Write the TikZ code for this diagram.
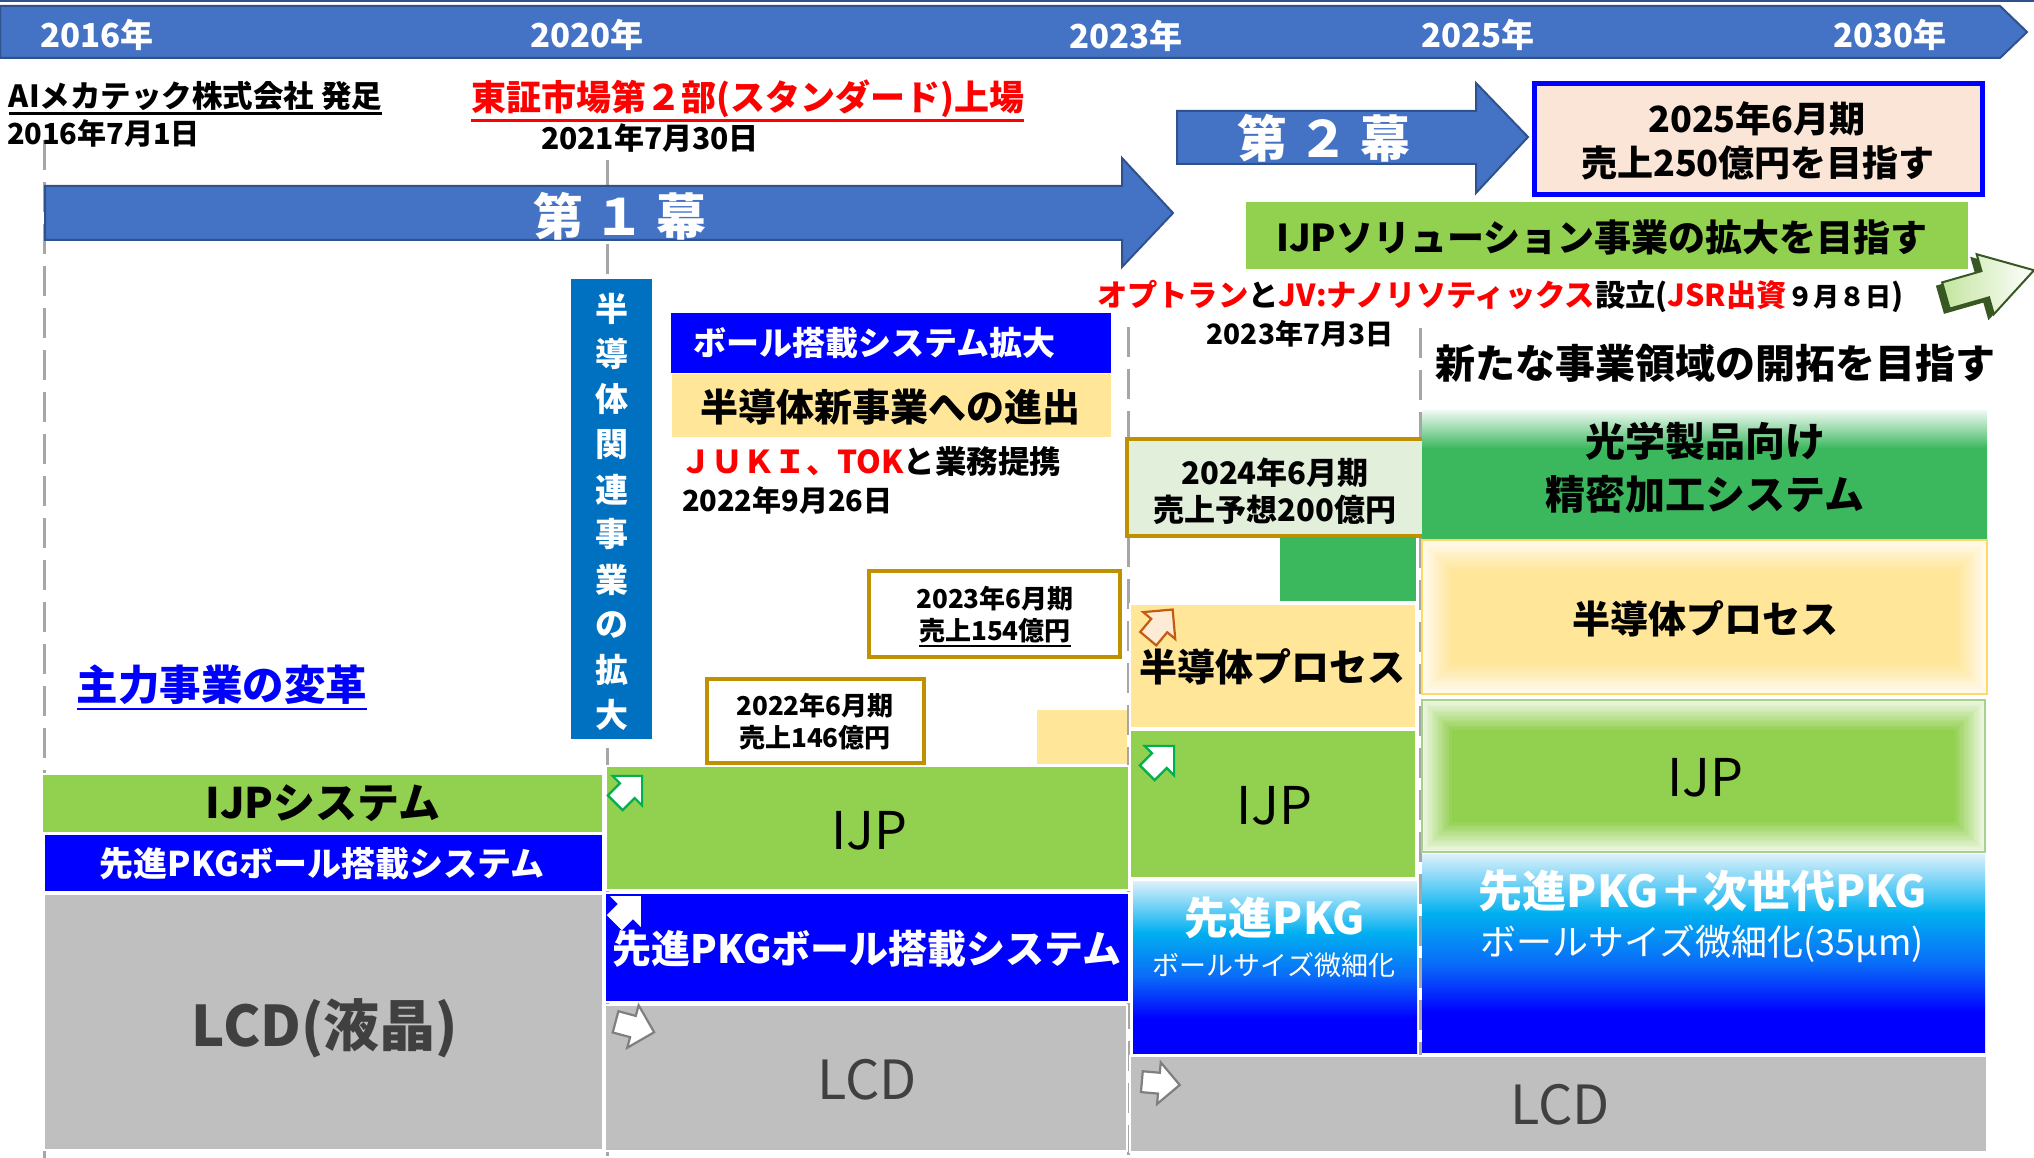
\documentclass[tikz,border=0pt]{standalone}
\usepackage{fontspec}
\setmainfont{Noto Sans CJK JP}
\usetikzlibrary{calc}
\definecolor{tlblue}{HTML}{4472C4}
\definecolor{tledge}{HTML}{2F528F}
\definecolor{ijpgreen}{HTML}{92D050}
\definecolor{pkgblue}{HTML}{0000FF}
\definecolor{lcdgray}{HTML}{BFBFBF}
\definecolor{lcdtext}{HTML}{404040}
\definecolor{semiyellow}{HTML}{FFE699}
\definecolor{vblue}{HTML}{0070C0}
\definecolor{dgreen}{RGB}{59,184,94}
\definecolor{peach}{HTML}{FBE5D6}
\definecolor{palegreen}{HTML}{E2EFDA}
\definecolor{gold}{HTML}{BF9000}
\definecolor{dashgray}{HTML}{A6A6A6}
\definecolor{pkgcyan}{HTML}{00B0F0}
\definecolor{pkgmid}{HTML}{0A6AF8}
\definecolor{pkglight}{HTML}{DDF1FB}
\definecolor{iconorange}{HTML}{C55A11}
\definecolor{iconpeach}{HTML}{FDEBD5}
\definecolor{icongreen}{HTML}{00B050}
\definecolor{icongray}{HTML}{7F7F7F}
\definecolor{arrdark}{RGB}{56,87,35}
\definecolor{semiedge}{HTML}{FFD966}
\definecolor{ijpedge}{HTML}{A9D18E}
\pgfdeclareverticalshading{pkgshade}{100bp}{color(0bp)=(pkgblue); color(35bp)=(pkgblue); color(47bp)=(pkgmid); color(60bp)=(pkgcyan); color(75bp)=(pkglight); color(100bp)=(pkglight)}
\pgfdeclareverticalshading{optshade}{100bp}{color(0bp)=(dgreen); color(60bp)=(dgreen); color(68bp)=(dgreen!50!white); color(75bp)=(dgreen!8!white); color(100bp)=(dgreen!8!white)}
\newcommand\rbox[6]{\node[rbx,minimum width={#4-#2},minimum height={#5-#3},#6] (#1) at ({(#2+#4)/2},{(#3+#5)/2}) {};}
\newcommand\blkarrow[5]{\draw[icon,#5,shift={(#1,#2)},rotate=#3,scale=#4] (-8,-5.5) -- (1,-5.5) -- (1,-11) -- (12,0) -- (1,11) -- (1,5.5) -- (-8,5.5) -- cycle;}
\newcommand\glowbox[1]{\foreach \i in {0,...,11}{\pgfmathsetmacro\op{0.85*(1-\i/12)}\draw[white, opacity=\op, line width=2.5pt] ([shift={(\i*2.5+1.2,\i*2.5+1.2)}]#1.north west) rectangle ([shift={(-\i*2.5-1.2,-\i*2.5-1.2)}]#1.south east);}}
\begin{document}
\begin{tikzpicture}[x=1pt,y=-1pt,
 rbx/.style={rectangle, inner sep=0pt, outer sep=0pt, draw=white, line width=2pt},
 txt/.style={inner sep=0pt, outer sep=0pt, font=\fontsize{#1}{#1}\selectfont},
 btxt/.style={inner sep=0pt, outer sep=0pt, font=\fontsize{#1}{#1}\selectfont\bfseries},
 yrline/.style={draw=dashgray, line width=3pt, dash pattern=on 30pt off 12pt},
 bigarrow/.style={fill=tlblue, draw=tledge, line width=2pt},
 goldbox/.style={rbx, draw=gold, line width=4pt},
 icon/.style={line width=2.2pt, line join=miter}]
\clip (0,0) rectangle (2034,1158);
\fill[white] (0,0) rectangle (2034,1158);
\draw[tledge, line width=1.5pt] (0,1) -- (2034,1);
% timeline band
\draw[bigarrow] (0,6) -- (2000,6) -- (2027,32) -- (2000,58) -- (0,58) -- cycle;
\node[btxt=33, white] (y2016) at (97,35) {2016年};
\node[btxt=33, white] (y2020) at (587,35) {2020年};
\node[btxt=33, white] (y2023) at (1126,36) {2023年};
\node[btxt=33, white] (y2025) at (1478,35) {2025年};
\node[btxt=33, white] (y2030) at (1890,35) {2030年};
% dashed year lines
\coordinate (l16t) at (44,140); \coordinate (l16b) at (44,1158);
\coordinate (l20t) at (607,160); \coordinate (l20b) at (607,1158);
\coordinate (l23t) at (1128,327); \coordinate (l23b) at (1128,1158);
\coordinate (l25t) at (1420,328); \coordinate (l25b) at (1420,1056);
\draw[yrline] (l16t) -- (l16b);
\draw[yrline] (l20t) -- (l20b);
\draw[yrline] (l23t) -- (l23b);
\draw[yrline] (l25t) -- (l25b);
% top texts
\node[btxt=30.5, anchor=west] (found) at (9,96) {AIメカテック株式会社 発足};
\draw[line width=2.5pt] ($(found.south west)+(0,3)$) -- ($(found.south east)+(0,3)$);
\node[btxt=29, anchor=west] (founddate) at (7,133) {2016年7月1日};
\node[btxt=35, anchor=west, red] (listing) at (471,99) {東証市場第２部(スタンダード)上場};
\draw[red, line width=3pt] ($(listing.south west)+(0,3)$) -- ($(listing.south east)+(0,3)$);
\node[btxt=30] (listdate) at (650,138) {2021年7月30日};
% act arrows
\draw[bigarrow] (45,186) -- (1122,186) -- (1122,158) -- (1173,213) -- (1122,267) -- (1122,240) -- (45,240) -- cycle;
\node[btxt=50, white] (act1) at (620,216) {第 １ 幕};
\draw[bigarrow] (1177,111) -- (1476,111) -- (1476,83) -- (1528,137) -- (1476,193) -- (1476,164) -- (1177,164) -- cycle;
\node[btxt=50, white] (act2) at (1324,138) {第 ２ 幕};
% goals
\rbox{goal}{1534}{84}{1982}{195}{fill=peach, draw=pkgblue, line width=5pt}
\node[btxt=36] (goal1) at (1757,119) {2025年6月期};
\node[btxt=36] (goal2) at (1758,163) {売上250億円を目指す};
\rbox{ijpsol}{1246}{202}{1968}{269}{fill=ijpgreen, draw=none}
\node[btxt=37] (ijpsolt) at (1602,237) {IJPソリューション事業の拡大を目指す};
% big outline arrow at right
\draw[arrdark, fill=arrdark, line width=2pt, shift={(1976.5,289.3)}, rotate=16, scale=3.9] (-9.5,-3.5) -- (1,-3.5) -- (1,-8) -- (14,0) -- (1,8) -- (1,3.5) -- (-9.5,3.5) -- cycle;
\draw[arrdark, line width=2pt, left color=ijpgreen!55!white, right color=white, shift={(1981.5,285.3)}, rotate=16, scale=3.9] (-9.5,-3.5) -- (1,-3.5) -- (1,-8) -- (14,0) -- (1,8) -- (1,3.5) -- (-9.5,3.5) -- cycle;
\node[btxt=30.3, anchor=west] (jv) at (1097,296) {\color{red}オプトラン\color{black}と\color{red}JV:ナノリソティックス\color{black}設立(\color{red}JSR出資\color{black}{\fontsize{26}{26}\selectfont ９月８日})};
\node[btxt=28] (date703) at (1300,334) {2023年7月3日};
\node[btxt=40] (newbiz) at (1715,363) {新たな事業領域の開拓を目指す};
% vertical box
\rbox{vbox}{571}{279}{652}{739}{fill=vblue, draw=none}
\foreach \c [count=\k from 0] in {半,導,体,関,連,事,業,の,拡,大}
  \node[btxt=33, white] (v\k) at (612,{309+45.1*\k}) {\c};
% middle upper
\rbox{ballexp}{671}{313}{1111}{373}{fill=pkgblue, draw=none}
\node[btxt=33, white, anchor=west] (ballexpt) at (693,343) {ボール搭載システム拡大};
\rbox{semi1}{672}{374}{1111}{437}{fill=semiyellow, draw=none}
\node[btxt=38] (semi1t) at (890,407) {半導体新事業への進出};
\node[btxt=31.5, anchor=west] (juki) at (680,462) {\color{red}ＪＵＫＩ、TOK\color{black}と業務提携};
\node[btxt=29, anchor=west] (jukidate) at (682,500) {2022年9月26日};
\rbox{r22}{707}{679}{924}{763}{goldbox, fill=white}
\node[btxt=26] (r22a) at (815,706) {2022年6月期};
\node[btxt=26] (r22b) at (815,738) {売上146億円};
\rbox{r23}{869}{571}{1120}{657}{goldbox, fill=white}
\node[btxt=26] (r23a) at (995,599) {2023年6月期};
\node[btxt=26] (r23b) at (995,631) {売上154億円};
\draw[line width=2pt] ($(r23b.south west)+(0,3)$) -- ($(r23b.south east)+(0,3)$);
\rbox{ysmall}{1037}{710}{1127}{764}{fill=semiyellow, draw=none}
% left column
\node[btxt=41.5, blue] (mainbiz) at (222,685) {主力事業の変革};
\draw[blue, line width=2.5pt] ($(mainbiz.south west)+(0,4)$) -- ($(mainbiz.south east)+(0,4)$);
\rbox{ijp1}{42}{774}{603}{833}{fill=ijpgreen}
\node[btxt=42] (ijp1t) at (323,803) {IJPシステム};
\rbox{pkg1}{44}{834}{603}{892}{fill=pkgblue}
\node[btxt=34, white] (pkg1t) at (322,864) {先進PKGボール搭載システム};
\rbox{lcd1}{44}{894}{603}{1150}{fill=lcdgray}
\node[btxt=56, lcdtext] (lcd1t) at (325,1028) {LCD(液晶)};
% middle column
\rbox{ijp2}{606}{766}{1129}{890}{fill=ijpgreen}
\node[txt=52] (ijp2t) at (869,831) {IJP};
\rbox{pkg2}{605}{893}{1129}{1002}{fill=pkgblue}
\node[btxt=39, white] (pkg2t) at (867,949) {先進PKGボール搭載システム};
\rbox{lcd2}{605}{1005}{1127}{1151}{fill=lcdgray}
\node[txt=54, lcdtext] (lcd2t) at (867,1080) {LCD};
% 2023 column
\rbox{r24}{1127}{439}{1424}{536}{goldbox, fill=palegreen}
\node[btxt=31] (r24a) at (1275,473) {2024年6月期};
\node[btxt=31] (r24b) at (1275,510) {売上予想200億円};
\rbox{gsmall}{1280}{537}{1416}{601}{fill=dgreen, draw=none}
\rbox{semi3}{1130}{604}{1416}{728}{fill=semiyellow}
\node[btxt=38] (semi3t) at (1272,667) {半導体プロセス};
\rbox{ijp3}{1130}{730}{1416}{878}{fill=ijpgreen}
\node[txt=52] (ijp3t) at (1274,806) {IJP};
\rbox{pkg3}{1133}{881}{1417}{1053}{shading=pkgshade, draw=none}
\node[btxt=44, white] (pkg3t) at (1275,918) {先進PKG};
\node[txt=27, white] (pkg3s) at (1274,965) {ボールサイズ微細化};
\rbox{lcd3}{1130}{1056}{1987}{1152}{fill=lcdgray}
\node[txt=54, lcdtext] (lcd3t) at (1560,1105) {LCD};
% 2025 column
\rbox{opt}{1422}{410}{1987}{538}{shading=optshade, draw=none}
\node[btxt=40] (opt1) at (1705,441) {光学製品向け};
\node[btxt=40] (opt2) at (1705,494) {精密加工システム};
\rbox{semi4}{1422}{540}{1987}{694}{fill=semiyellow, draw=none}
\glowbox{semi4}
\draw[semiedge, line width=1.5pt] (semi4.north west) rectangle (semi4.south east);
\node[btxt=38] (semi4t) at (1705,619) {半導体プロセス};
\rbox{ijp4}{1422}{700}{1985}{852}{fill=ijpgreen, draw=none}
\glowbox{ijp4}
\draw[ijpedge, line width=1.5pt] (ijp4.north west) rectangle (ijp4.south east);
\node[txt=52] (ijp4t) at (1705,778) {IJP};
\rbox{pkg4}{1422}{854}{1985}{1052}{shading=pkgshade, draw=none}
\node[btxt=44, white] (pkg4t) at (1703,891) {先進PKG＋次世代PKG};
\node[txt=36, white] (pkg4s) at (1702,944) {ボールサイズ微細化(35μm)};
% icons
\blkarrow{626}{792}{45}{1.9}{fill=white, draw=icongreen}
\blkarrow{625}{912}{45}{1.75}{fill=white, draw=white}
\blkarrow{631}{1026}{-15}{2.0}{fill=white, draw=icongray}
\blkarrow{1158}{627}{50}{1.9}{fill=iconpeach, draw=iconorange}
\blkarrow{1158}{762}{45}{1.9}{fill=white, draw=icongreen}
\blkarrow{1157}{1083}{-5}{1.9}{fill=white, draw=icongray}
\end{tikzpicture}
\end{document}
